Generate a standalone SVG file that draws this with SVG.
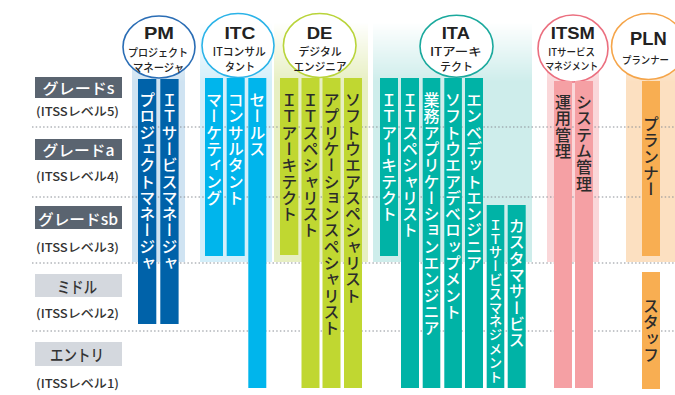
<svg xmlns="http://www.w3.org/2000/svg" width="675" height="395" viewBox="0 0 675 395">
<style>
.v{writing-mode:vertical-rl;font-family:"Noto Sans CJK JP","Noto Sans",sans-serif;font-size:16px;font-weight:500;letter-spacing:0.3px}
.w{fill:#fff}
.d{fill:#2b2b2b}
.ttl{font-family:"Liberation Sans",Arial,sans-serif;font-weight:bold;font-size:17px;fill:#222;text-anchor:middle}
.sub{font-family:"Noto Sans CJK JP",sans-serif;font-size:11px;font-weight:500;fill:#222;text-anchor:middle}
.gbox{font-family:"Noto Sans CJK JP",sans-serif;font-size:15px;font-weight:500;text-anchor:middle}
.lvl{font-family:"Noto Sans CJK JP","Liberation Sans",sans-serif;font-size:12px;font-weight:500;fill:#333;text-anchor:middle}
.dot{stroke:#8a8f96;stroke-width:1;stroke-dasharray:1.5 2.2;fill:none}
.circ{fill:#fff;stroke-width:1.6}
</style>
<defs>
<linearGradient id="fadeG" gradientUnits="userSpaceOnUse" x1="0" y1="22" x2="0" y2="82">
<stop offset="0" stop-color="#fff" stop-opacity="0"/>
<stop offset="1" stop-color="#fff" stop-opacity="1"/>
</linearGradient>
<mask id="fade" maskUnits="userSpaceOnUse" x="0" y="0" width="675" height="395">
<rect x="0" y="0" width="675" height="395" fill="url(#fadeG)"/>
</mask>
</defs>
<rect width="675" height="395" fill="#fff"/>

<g id="bands" mask="url(#fade)">
<rect x="132" y="0" width="53" height="262" fill="#cfe3f2"/>
<rect x="200" y="0" width="72" height="262" fill="#d3effa"/>
<rect x="274" y="0" width="94" height="262" fill="#e7efc2"/>
<rect x="373" y="0" width="159" height="262" fill="#ceedeb"/>
<rect x="547" y="0" width="52" height="262" fill="#fad7d9"/>
<rect x="626" y="0" width="49" height="262" fill="#fce0c1"/>
</g>

<g id="connectors">
<line class="dot" x1="32" y1="127" x2="675" y2="127"/>
<line class="dot" x1="32" y1="197" x2="675" y2="197"/>
<line class="dot" x1="32" y1="263" x2="675" y2="263"/>
<line class="dot" x1="32" y1="331" x2="675" y2="331"/>
</g>

<g id="grades">
<rect x="35" y="77" width="87" height="21" fill="#5a6470"/>
<text class="gbox" x="78.5" y="93.5" fill="#fff" textLength="72" lengthAdjust="spacingAndGlyphs">グレードs</text>
<text class="lvl" x="77.5" y="115.5" textLength="83" lengthAdjust="spacingAndGlyphs">(ITSSレベル5)</text>
<rect x="35" y="139" width="87" height="21" fill="#5a6470"/>
<text class="gbox" x="78.5" y="155.5" fill="#fff" textLength="72" lengthAdjust="spacingAndGlyphs">グレードa</text>
<text class="lvl" x="77.5" y="181" textLength="83" lengthAdjust="spacingAndGlyphs">(ITSSレベル4)</text>
<rect x="35" y="206" width="87" height="23" fill="#5a6470"/>
<text class="gbox" x="78" y="224.5" fill="#fff" textLength="80" lengthAdjust="spacingAndGlyphs">グレードsb</text>
<text class="lvl" x="77.5" y="251.5" textLength="83" lengthAdjust="spacingAndGlyphs">(ITSSレベル3)</text>
<rect x="35" y="274" width="87" height="23" fill="#d4d8de"/>
<text class="gbox" x="77" y="292.5" fill="#333" textLength="40" lengthAdjust="spacingAndGlyphs" style="font-size:16px">ミドル</text>
<text class="lvl" x="77.5" y="318" textLength="83" lengthAdjust="spacingAndGlyphs">(ITSSレベル2)</text>
<rect x="35" y="342" width="87" height="24" fill="#d4d8de"/>
<text class="gbox" x="77" y="361" fill="#333" textLength="54" lengthAdjust="spacingAndGlyphs" style="font-size:16px">エントリ</text>
<text class="lvl" x="77.5" y="388" textLength="83" lengthAdjust="spacingAndGlyphs">(ITSSレベル1)</text>
</g>

<g id="PM">
<ellipse class="circ" cx="159" cy="47" rx="36" ry="31" stroke="#2a6db5"/>
<text class="ttl" x="159" y="38.5" textLength="30" lengthAdjust="spacingAndGlyphs">PM</text>
<text class="sub" x="158" y="56.5" textLength="60" lengthAdjust="spacingAndGlyphs">プロジェクト</text>
<text class="sub" x="158.5" y="71.5" textLength="51" lengthAdjust="spacingAndGlyphs">マネージャ</text>
<rect x="138" y="79" width="18.3" height="245" fill="#0062a9"/>
<rect x="160.3" y="79" width="18.3" height="245" fill="#0062a9"/>
<text class="v w" x="147.2" y="92">プロジェクトマネージャ</text>
<text class="v w" x="169.5" y="92">ＩＴサービスマネージャ</text>
</g>

<g id="ITC">
<ellipse class="circ" cx="238" cy="45.5" rx="36" ry="32" stroke="#2bb3e8"/>
<text class="ttl" x="240" y="38.5" textLength="31" lengthAdjust="spacingAndGlyphs">ITC</text>
<text class="sub" x="239.3" y="56" textLength="53" lengthAdjust="spacingAndGlyphs">ITコンサル</text>
<text class="sub" x="240" y="71" textLength="30" lengthAdjust="spacingAndGlyphs">タント</text>
<rect x="205" y="78" width="18" height="178" fill="#00b5ec"/>
<rect x="226.7" y="78" width="18" height="178" fill="#00b5ec"/>
<rect x="248.3" y="78" width="18" height="310" fill="#00b5ec"/>
<text class="v w" x="214" y="92">マーケティング</text>
<text class="v w" x="235.7" y="92">コンサルタント</text>
<text class="v w" x="257.3" y="92">セールス</text>
</g>

<g id="DE">
<ellipse class="circ" cx="319.7" cy="45.5" rx="36.3" ry="32" stroke="#b9d43a"/>
<text class="ttl" x="319.5" y="38.5" textLength="25.7" lengthAdjust="spacingAndGlyphs">DE</text>
<text class="sub" x="320" y="56" textLength="43" lengthAdjust="spacingAndGlyphs">デジタル</text>
<text class="sub" x="320" y="71" textLength="53" lengthAdjust="spacingAndGlyphs">エンジニア</text>
<rect x="280" y="78" width="18.3" height="177" fill="#c0d731"/>
<rect x="301.5" y="78" width="18" height="310" fill="#c0d731"/>
<rect x="322.5" y="78" width="18" height="310" fill="#c0d731"/>
<rect x="344" y="78" width="18" height="310" fill="#c0d731"/>
<text class="v d" x="289.2" y="92">ＩＴアーキテクト</text>
<text class="v d" x="310.5" y="92">ＩＴスペシャリスト</text>
<text class="v d" x="331.5" y="92">アプリケーションスペシャリスト</text>
<text class="v d" x="353" y="92">ソフトウエアスペシャリスト</text>
</g>

<g id="ITA">
<ellipse class="circ" cx="456.5" cy="46.3" rx="36.5" ry="31" stroke="#1aa99d"/>
<text class="ttl" x="455.8" y="38.5" textLength="28" lengthAdjust="spacingAndGlyphs">ITA</text>
<text class="sub" x="455.8" y="56" textLength="51.7" lengthAdjust="spacingAndGlyphs">ITアーキ</text>
<text class="sub" x="456.5" y="71" textLength="33" lengthAdjust="spacingAndGlyphs">テクト</text>
<rect x="380" y="78" width="18" height="178" fill="#00b3a6"/>
<rect x="401" y="78" width="18" height="310" fill="#00b3a6"/>
<rect x="422.7" y="78" width="17.6" height="310" fill="#00b3a6"/>
<rect x="444.3" y="78" width="17.6" height="310" fill="#00b3a6"/>
<rect x="465" y="78" width="18" height="310" fill="#00b3a6"/>
<rect x="486.7" y="205" width="17.6" height="183" fill="#00b3a6"/>
<rect x="507.7" y="205" width="18" height="183" fill="#00b3a6"/>
<text class="v w" x="389" y="92">ＩＴアーキテクト</text>
<text class="v w" x="410" y="92">ＩＴスペシャリスト</text>
<text class="v w" x="431.5" y="92">業務アプリケーションエンジニア</text>
<text class="v w" x="453" y="92">ソフトウエアデベロップメント</text>
<text class="v w" x="474" y="92">エンベデットエンジニア</text>
<text class="v w" x="495.5" y="218" style="font-size:13.5px">ＩＴサービスマネジメント</text>
<text class="v w" x="516.7" y="218">カスタマサービス</text>
</g>

<g id="ITSM">
<ellipse class="circ" cx="573" cy="48.5" rx="35" ry="33.5" stroke="#eb6f7f"/>
<text class="ttl" x="572.8" y="38.5" textLength="44" lengthAdjust="spacingAndGlyphs">ITSM</text>
<text class="sub" x="571.7" y="56" textLength="46.7" lengthAdjust="spacingAndGlyphs" style="font-size:10.5px">ITサービス</text>
<text class="sub" x="571.7" y="70" textLength="53" lengthAdjust="spacingAndGlyphs" style="font-size:10.5px">マネジメント</text>
<rect x="554" y="81" width="18" height="307" fill="#f5a0a4"/>
<rect x="575" y="81" width="18" height="307" fill="#f5a0a4"/>
<text class="v d" x="563" y="94">運用管理</text>
<text class="v d" x="584" y="94">システム管理</text>
</g>

<g id="PLN">
<ellipse class="circ" cx="648.5" cy="46.5" rx="37" ry="33" stroke="#f5a54a"/>
<text class="ttl" x="648.3" y="45" textLength="36.7" lengthAdjust="spacingAndGlyphs" style="font-size:18px">PLN</text>
<text class="sub" x="645.5" y="64" textLength="47" lengthAdjust="spacingAndGlyphs" style="font-size:10.5px">プランナー</text>
<rect x="642" y="81" width="18" height="175" fill="#f8ae52"/>
<rect x="642" y="272" width="18" height="117" fill="#f8ae52"/>
<text class="v d" x="651" y="116">プランナー</text>
<text class="v d" x="651" y="298">スタッフ</text>
</g>
</svg>
